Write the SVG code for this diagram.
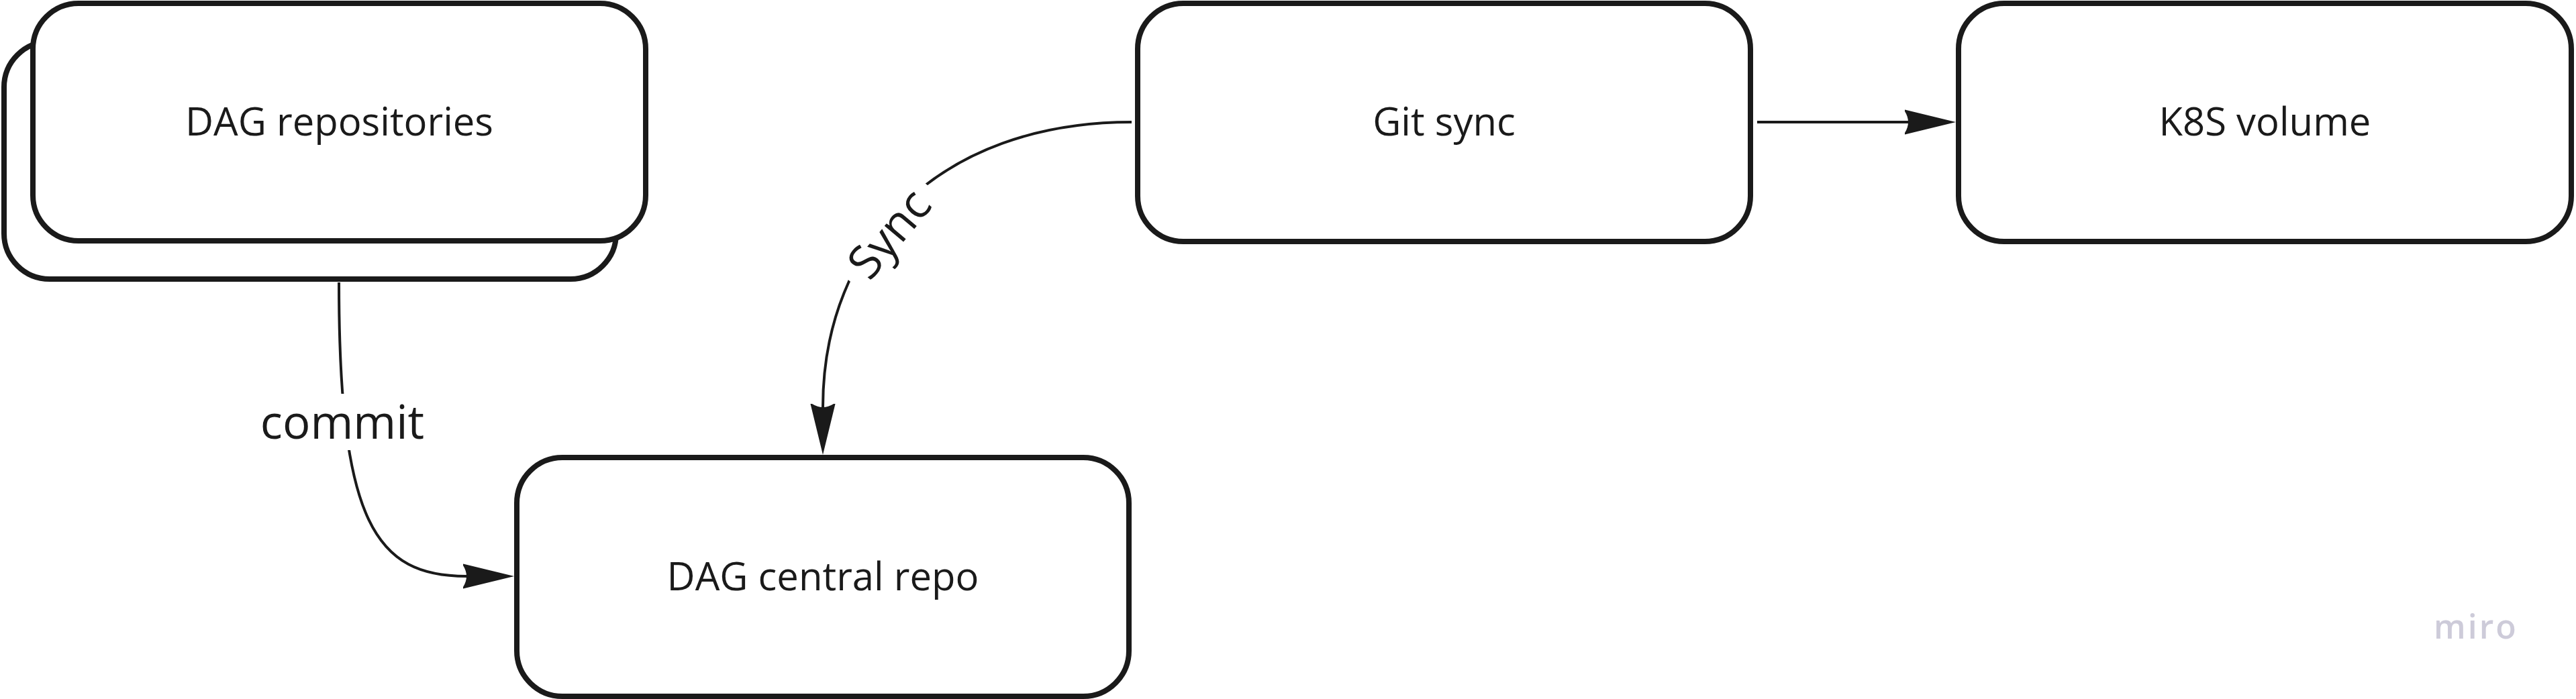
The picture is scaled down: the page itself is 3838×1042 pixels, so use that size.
<svg xmlns="http://www.w3.org/2000/svg" width="3838" height="1042" viewBox="0 0 3838 1042">
<style>
.box{fill:#ffffff;stroke:#1a1a1a;stroke-width:8}
.lbl{font-family:"Open Sans","Liberation Sans",sans-serif;font-size:58px;fill:#1a1a1a;text-anchor:middle}
.elbl{font-family:"Open Sans","Liberation Sans",sans-serif;font-size:69px;fill:#1a1a1a;text-anchor:middle}
.edge{fill:none;stroke:#1a1a1a;stroke-width:4}
.bg{fill:#ffffff}
</style>
<defs>
<marker id="arr" markerUnits="userSpaceOnUse" markerWidth="90" markerHeight="50" viewBox="-5 -25 90 50" refX="0" refY="0" orient="auto">
<path d="M71,0 L-7,-19 Q7,0 -7,19 Z" fill="#1a1a1a"/>
</marker>
</defs>
<rect width="3838" height="1042" fill="#ffffff"/>
<g id="node-dag-repositories">
<rect class="box" x="6" y="62" width="912" height="354" rx="68" ry="68"/>
<rect class="box" x="49" y="5" width="913" height="354" rx="68" ry="68"/>
<text class="lbl" x="505.5" y="202">DAG repositories</text>
</g>
<g id="node-git-sync">
<rect class="box" x="1695" y="5" width="913" height="355" rx="68" ry="68"/>
<text class="lbl" x="2151.5" y="202">Git sync</text>
</g>
<g id="node-k8s-volume">
<rect class="box" x="2918" y="5" width="913" height="355" rx="68" ry="68"/>
<text class="lbl" x="3374.5" y="202">K8S volume</text>
</g>
<g id="node-dag-central-repo">
<rect class="box" x="770" y="682" width="912" height="356" rx="68" ry="68"/>
<text class="lbl" x="1226" y="880">DAG central repo</text>
</g>
<g id="connectors">
<path class="edge" d="M505,421 C505,780 560,859 695,859" marker-end="url(#arr)"/>
<rect class="bg" x="380" y="587" width="260" height="84"/>
<text class="elbl" x="510" y="654">commit</text>
<path class="edge" d="M1686,182 C1400,182 1226,360 1226,607" marker-end="url(#arr)"/>
<g transform="translate(1328,351) rotate(-50)">
<rect class="bg" x="-92" y="-40" width="184" height="80"/>
<text class="elbl" x="0" y="20">Sync</text>
</g>
<path class="edge" d="M2618,182 H2843" marker-end="url(#arr)"/>
</g>
<text x="3626" y="952" font-family="Open Sans, Liberation Sans, sans-serif" font-size="50" font-weight="600" letter-spacing="3" fill="#cdcbd9">miro</text>
</svg>
